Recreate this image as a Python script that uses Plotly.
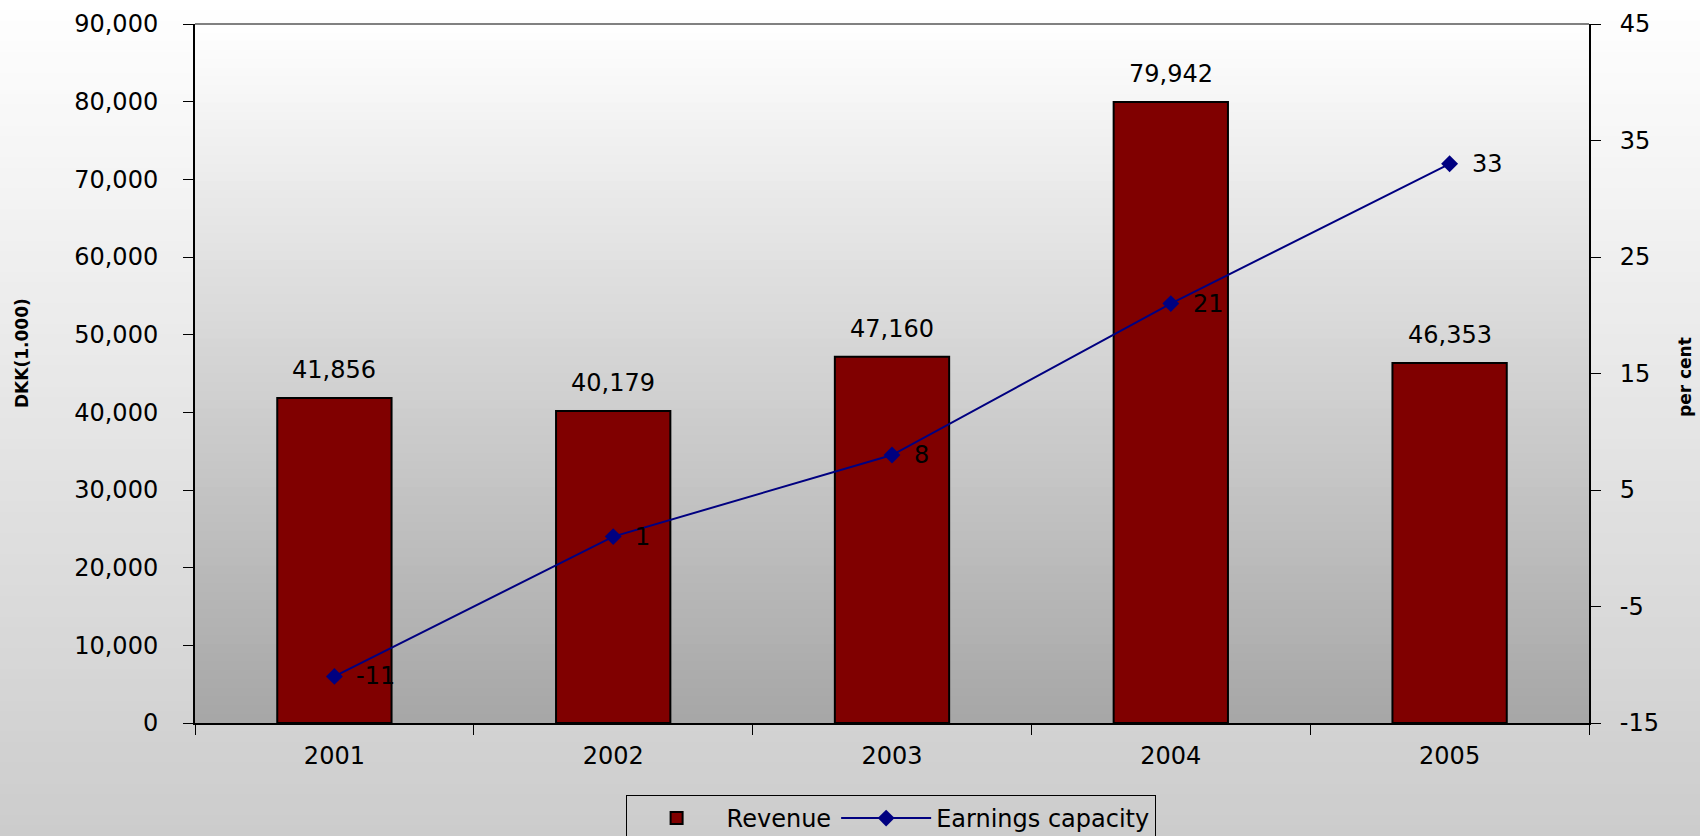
import plotly.graph_objects as go

years = ["2001", "2002", "2003", "2004", "2005"]
revenue = [41856, 40179, 47160, 79942, 46353]
earnings = [-11, 1, 8, 21, 33]
left_ticks = [0, 10000, 20000, 30000, 40000, 50000, 60000, 70000, 80000, 90000]
right_ticks = [-15, -5, 5, 15, 25, 35, 45]

W, H = 1700, 836
ML, MR, MT, MB = 195, 111, 24, 113
FONT = "DejaVu Sans, Liberation Sans, Arial, sans-serif"
FS = 24

pw = W - ML - MR
ph = H - MT - MB

fig = go.Figure()

fig.add_trace(go.Bar(
    x=years, y=revenue, name="Revenue",
    marker=dict(color="#800000", line=dict(color="#000000", width=2)),
    yaxis="y",
))
fig.add_trace(go.Scatter(
    x=years, y=earnings, name="Earnings capacity",
    mode="lines+markers",
    line=dict(color="#000080", width=2),
    marker=dict(symbol="diamond", size=13, color="#000080"),
    yaxis="y2",
))

shapes = []
# figure background gradient
N = 80
x0p = -ML / pw
x1p = 1 + MR / pw
y0p = -MB / ph
y1p = 1 + MT / ph
for i in range(N):
    t = (i + 0.5) / N
    c = int(round(255 - (255 - 204) * t))
    ya = y1p - (y1p - y0p) * i / N
    yb = y1p - (y1p - y0p) * (i + 1) / N
    shapes.append(dict(type="rect", xref="paper", yref="paper",
                       x0=x0p, x1=x1p, y0=yb - 0.002, y1=ya,
                       fillcolor=f"rgb({c},{c},{c})", line=dict(width=0), layer="below"))
# plot area gradient
M = 80
for i in range(M):
    t = (i + 0.5) / M
    c = int(round(255 - (255 - 166) * t))
    ya = 1 - i / M
    yb = 1 - (i + 1) / M
    shapes.append(dict(type="rect", xref="paper", yref="paper",
                       x0=0, x1=1, y0=max(0, yb - 0.002), y1=ya,
                       fillcolor=f"rgb({c},{c},{c})", line=dict(width=0), layer="below"))
# top border of plot area
shapes.append(dict(type="line", xref="paper", yref="paper", x0=0, x1=1, y0=1, y1=1,
                   line=dict(color="#808080", width=2), layer="above"))

annotations = []
for i, v in enumerate(revenue):
    annotations.append(dict(x=i, y=v, xref="x", yref="y", text=f"{v:,}",
                            showarrow=False, yanchor="bottom", yshift=12,
                            font=dict(size=FS, color="#000000", family=FONT)))
for i, v in enumerate(earnings):
    annotations.append(dict(x=i, y=v, xref="x", yref="y2", text=str(v),
                            showarrow=False, xanchor="left", yanchor="middle", xshift=20,
                            font=dict(size=FS, color="#000000", family=FONT)))
annotations.append(dict(x=(22 - ML) / pw, y=(H - MB - 353) / ph, xref="paper", yref="paper",
                        xanchor="center", yanchor="middle",
                        text="<b>DKK(1.000)</b>", showarrow=False, textangle=-90,
                        font=dict(size=17, color="#000000", family=FONT)))
annotations.append(dict(x=(1685 - ML) / pw, y=(H - MB - 377) / ph, xref="paper", yref="paper",
                        xanchor="center", yanchor="middle",
                        text="<b>per cent</b>", showarrow=False, textangle=-90,
                        font=dict(size=17, color="#000000", family=FONT)))

fig.update_layout(
    width=W, height=H,
    margin=dict(l=ML, r=MR, t=MT, b=MB, pad=0, autoexpand=False),
    paper_bgcolor="#ffffff",
    plot_bgcolor="rgba(0,0,0,0)",
    font=dict(family=FONT, size=FS, color="#000000"),
    bargap=0.59,
    showlegend=True,
    legend=dict(orientation="h", x=0.499, xanchor="center", y=-0.103, yanchor="top",
                bgcolor="rgba(0,0,0,0)", bordercolor="#000000", borderwidth=1,
                font=dict(size=FS, family=FONT, color="#000000"),
                itemwidth=90, tracegroupgap=0),
    xaxis=dict(type="category", categoryorder="array", categoryarray=years,
               range=[-0.5, len(years) - 0.5], tickangle=0,
               showline=True, linecolor="#000000", linewidth=2,
               ticks="outside", ticklen=10, tickcolor="#000000", tickwidth=1,
               tickson="boundaries", showgrid=False, zeroline=False,
               ticklabelstandoff=10, automargin=False,
               tickfont=dict(size=FS, family=FONT, color="#000000")),
    yaxis=dict(range=[0, 90000], tickvals=left_ticks, tickformat=",",
               showline=True, linecolor="#000000", linewidth=2,
               ticks="outside", ticklen=10, tickcolor="#000000", tickwidth=1,
               showgrid=False, zeroline=False, ticklabelstandoff=20, automargin=False,
               tickfont=dict(size=FS, family=FONT, color="#000000")),
    yaxis2=dict(range=[-15, 45], tickvals=right_ticks, ticktext=[str(v) for v in right_ticks],
                overlaying="y", side="right",
                showline=True, linecolor="#000000", linewidth=2,
                ticks="outside", ticklen=10, tickcolor="#000000", tickwidth=1,
                showgrid=False, zeroline=False, ticklabelstandoff=14, automargin=False,
                tickfont=dict(size=FS, family=FONT, color="#000000")),
    shapes=shapes,
    annotations=annotations,
)

fig.write_html("out.html", config={"displayModeBar": False},
               post_script="document.body.style.margin='0';")
